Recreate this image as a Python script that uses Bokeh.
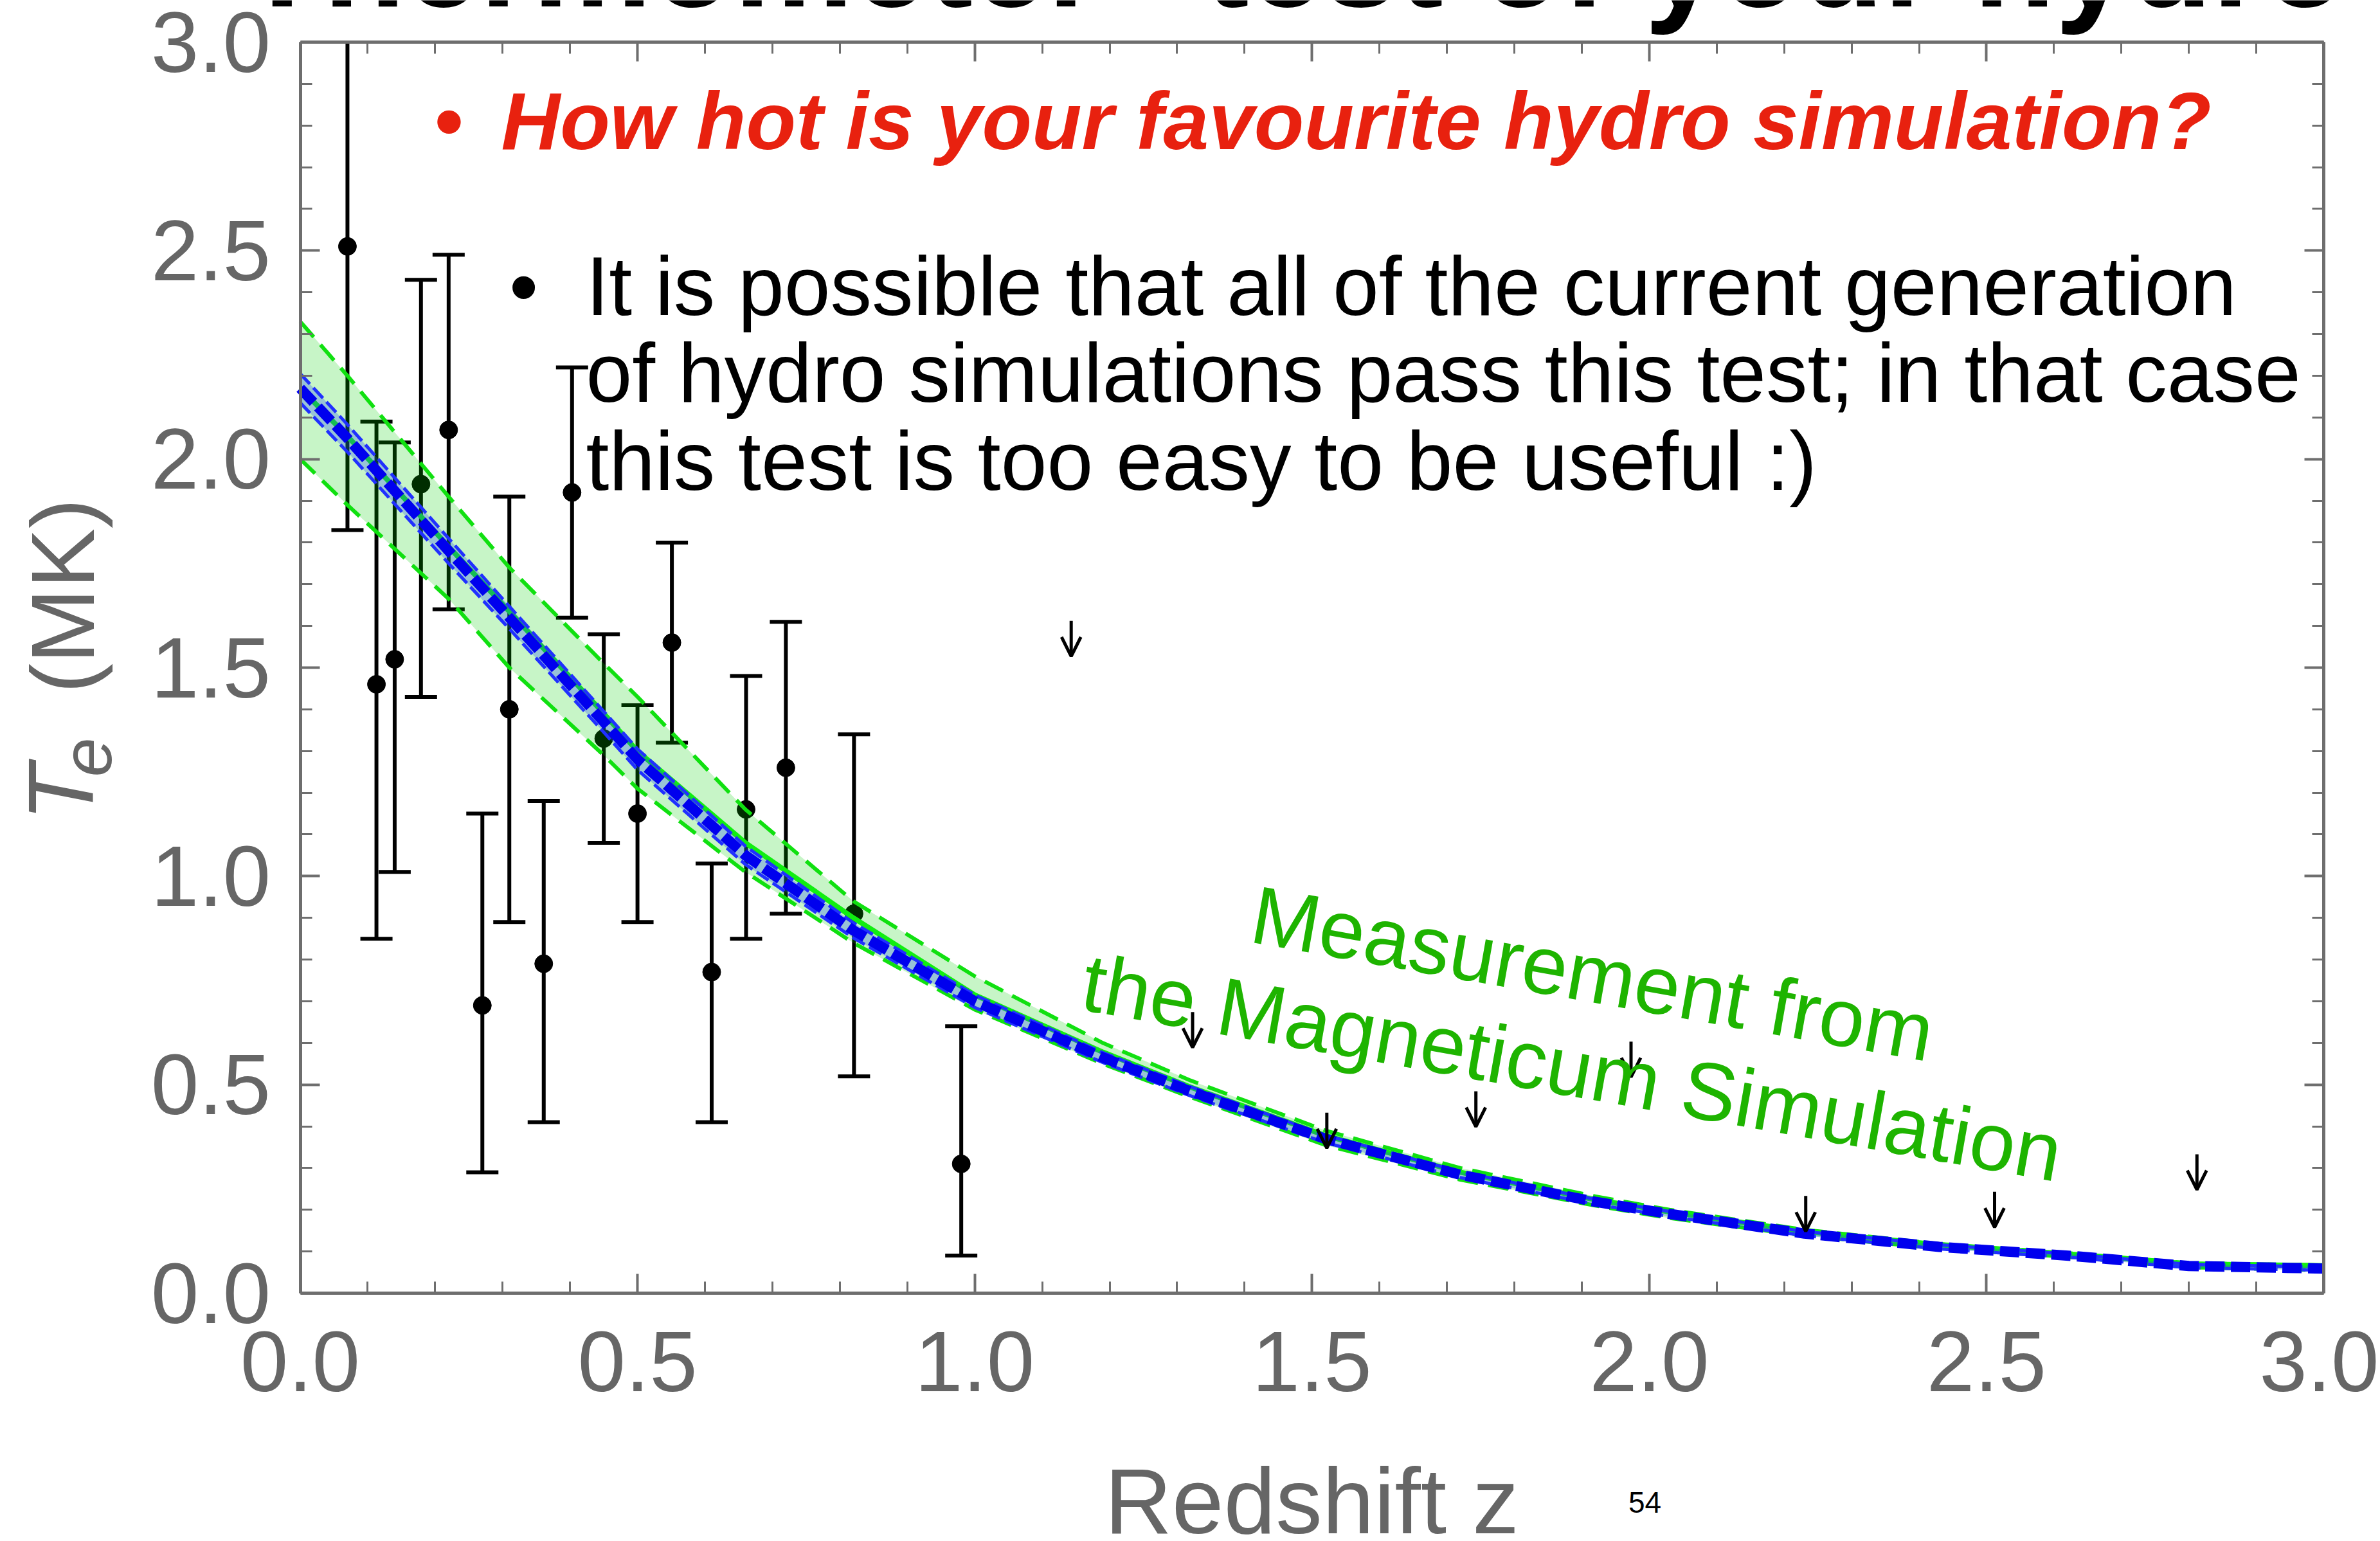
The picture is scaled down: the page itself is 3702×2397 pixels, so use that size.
from bokeh.plotting import figure
from bokeh.models import (Range1d, LinearAxis, SingleIntervalTicker, PrintfTickFormatter,
                          Label, Arrow, OpenHead, ColumnDataSource)
from bokeh.embed import file_html
from bokeh.resources import INLINE
import math

# ---------------- data ----------------
# measured points (redshift, temperature in MK, error bar ends)
z_pts = [0.070, 0.113, 0.140, 0.179, 0.220, 0.270, 0.310, 0.361, 0.403, 0.450,
         0.500, 0.551, 0.610, 0.661, 0.720, 0.821, 0.980]
T_pts = [2.51, 1.46, 1.52, 1.94, 2.07, 0.69, 1.40, 0.79, 1.92, 1.33,
         1.15, 1.56, 0.77, 1.16, 1.26, 0.91, 0.31]
T_hi = [3.00, 2.09, 2.04, 2.43, 2.49, 1.15, 1.91, 1.18, 2.22, 1.58,
        1.41, 1.80, 1.03, 1.48, 1.61, 1.34, 0.64]
T_lo = [1.83, 0.85, 1.01, 1.43, 1.64, 0.29, 0.89, 0.41, 1.62, 1.08,
        0.89, 1.32, 0.41, 0.85, 0.91, 0.52, 0.09]
has_top_cap = [False] + [True] * 16

# upper limits
z_ul = [1.143, 1.323, 1.522, 1.743, 1.973, 2.232, 2.512, 2.812]
T_ul = [1.612, 0.674, 0.433, 0.484, 0.603, 0.233, 0.243, 0.333]

# Magneticum simulation curves
z_curve = [0.0, 0.07, 0.22, 0.31, 0.45, 0.50, 0.66, 0.82, 1.00, 1.19,
           1.32, 1.52, 1.72, 1.92, 2.03, 2.23, 2.43, 2.63, 2.80, 3.00]
green_hi = [2.33, 2.20, 1.91, 1.74, 1.51, 1.43, 1.16, 0.94, 0.76, 0.60,
            0.51, 0.39, 0.30, 0.232, 0.20, 0.152, 0.118, 0.095, 0.072, 0.067]
green_lo = [2.00, 1.89, 1.665, 1.50, 1.29, 1.21, 1.01, 0.84, 0.68, 0.55,
            0.47, 0.355, 0.272, 0.21, 0.18, 0.138, 0.107, 0.086, 0.062, 0.055]
green_mid = [2.17, 2.055, 1.79, 1.635, 1.39, 1.30, 1.08, 0.90, 0.715, 0.578,
             0.494, 0.378, 0.290, 0.224, 0.195, 0.148, 0.116, 0.093, 0.070, 0.066]
blue_mid = [2.17, 2.05, 1.78, 1.62, 1.37, 1.28, 1.05, 0.87, 0.70, 0.565,
            0.484, 0.370, 0.284, 0.219, 0.190, 0.143, 0.111, 0.089, 0.065, 0.059]
blue_hi = [2.205, 2.083, 1.810, 1.647, 1.395, 1.305, 1.072, 0.888, 0.715, 0.577,
           0.495, 0.379, 0.291, 0.225, 0.196, 0.148, 0.116, 0.093, 0.069, 0.063]
blue_lo = [2.135, 2.017, 1.750, 1.593, 1.345, 1.255, 1.028, 0.852, 0.685, 0.553,
           0.473, 0.361, 0.277, 0.213, 0.184, 0.138, 0.106, 0.085, 0.061, 0.055]

x_axis_span = (0, 3)
y_axis_span = (0, 3)
tick_interval = 0.5

FONT = "Liberation Sans"
GRAY = "#666666"
AXIS = "#6e6e6e"

# ---------------- layout (page pixels) ----------------
W, H = 3700, 2395              # canvas
FL, FR, FT, FB = 466.5, 3614.0, 65.0, 2011.0   # where the 0..3 box sits
sx = (FR - FL) / 3.0
sy = (FB - FT) / 3.0
X0, X1 = -FL / sx, (W - FL) / sx
Y0, Y1 = -(H - FB) / sy, 3.0 + FT / sy


def zx(px):
    return (px - FL) / sx


def ty(py):
    return (FB - py) / sy


p = figure(width=W, height=H, x_range=Range1d(X0, X1), y_range=Range1d(Y0, Y1),
           x_axis_type=None, y_axis_type=None,
           output_backend="svg", toolbar_location=None, title=None,
           min_border=0, min_border_left=0, min_border_right=0,
           min_border_top=0, min_border_bottom=0)
p.background_fill_color = "white"
p.border_fill_color = "white"
p.outline_line_color = None


def make_axis(loc, show_labels, standoff, bounds):
    ax = LinearAxis(fixed_location=loc, bounds=bounds,
                    ticker=SingleIntervalTicker(interval=tick_interval, num_minor_ticks=5),
                    formatter=PrintfTickFormatter(format="%.1f"))
    ax.axis_line_color = AXIS
    ax.axis_line_width = 5
    ax.major_tick_line_color = AXIS
    ax.minor_tick_line_color = AXIS
    ax.major_tick_line_width = 4
    ax.minor_tick_line_width = 3
    ax.major_tick_in = 30
    ax.major_tick_out = 0
    ax.minor_tick_in = 18
    ax.minor_tick_out = 0
    if show_labels:
        ax.major_label_text_font = FONT
        ax.major_label_text_font_size = "134px"
        ax.major_label_text_color = GRAY
        ax.major_label_standoff = standoff
    else:
        ax.major_label_text_font_size = "1px"
        ax.major_label_text_alpha = 0
        ax.major_label_standoff = 0
    return ax


p.add_layout(make_axis(y_axis_span[0], True, 60, x_axis_span), "below")
p.add_layout(make_axis(x_axis_span[0], True, 46, y_axis_span), "left")
p.add_layout(make_axis(y_axis_span[1], False, 0, x_axis_span), "above")
p.add_layout(make_axis(x_axis_span[1], False, 0, y_axis_span), "right")

# ---------------- data points (under the band) ----------------
p.segment(x0=z_pts, y0=T_lo, x1=z_pts, y1=T_hi, line_color="black", line_width=6)
p.scatter(x=[z for z, c in zip(z_pts, has_top_cap) if c],
          y=[t for t, c in zip(T_hi, has_top_cap) if c],
          marker="dash", size=50, line_color="black", line_width=6)
p.scatter(x=z_pts, y=T_lo, marker="dash", size=50, line_color="black", line_width=6)
p.scatter(x=z_pts, y=T_pts, marker="circle", size=28, fill_color="black", line_color="black")

# ---------------- simulation band ----------------
p.varea(x=z_curve, y1=green_lo, y2=green_hi, fill_color="#00d000", fill_alpha=0.22)
p.line(z_curve, green_hi, line_color="#10e010", line_width=6, line_dash="32 16")
p.line(z_curve, green_lo, line_color="#10e010", line_width=6, line_dash="32 16")
p.line(z_curve, green_mid, line_color="#11ee11", line_width=8)
p.varea(x=z_curve, y1=blue_lo, y2=blue_hi, fill_color="#2040ff", fill_alpha=0.28)
p.line(z_curve, blue_hi, line_color="#2030ff", line_width=5, line_dash="22 8")
p.line(z_curve, blue_lo, line_color="#2030ff", line_width=5, line_dash="22 8")
p.line(z_curve, blue_mid, line_color="#0000ee", line_width=16, line_dash="30 10")

# ---------------- upper limits ----------------
ul_src = ColumnDataSource(dict(x=z_ul, y0=T_ul, y1=[t - 0.085 for t in T_ul]))
p.add_layout(Arrow(x_start="x", y_start="y0", x_end="x", y_end="y1", source=ul_src,
                   line_color="black", line_width=5,
                   end=OpenHead(size=30, line_width=5, line_color="black")))

# ---------------- texts ----------------
K = 0.36   # baseline correction (fraction of font size)


def lab(px, py, text, size, color="black", style="normal", align="left", angle=0):
    a = math.radians(angle)
    # move the anchor "up" along the text's own vertical direction
    dx = -K * size * math.sin(a)
    dy = -K * size * math.cos(a)
    p.add_layout(Label(x=zx(px + dx), y=ty(py + dy), text=text, text_font=FONT,
                       text_font_size=f"{size}px", text_color=color,
                       text_font_style=style, text_align=align,
                       text_baseline="alphabetic", angle=angle, angle_units="deg"))


# slide title (cut off at the top of the page)
lab(270, 12, "\u201cThermometer\u201d test of your hydro simulations", 209, style="bold")

RED = "#e8210f"
lab(698, 233, "\u2022", 127, color=RED, style="bold", align="center")
lab(779, 233, "How hot is your favourite hydro simulation?", 127, color=RED,
    style="bold italic")

lab(814, 491, "\u2022", 129, align="center")
lab(911, 491, "It is possible that all of the current generation", 129)
lab(911, 625.8, "of hydro simulations pass this test; in that case", 129)
lab(911, 762.6, "this test is too easy to be useful :)", 129)

GREEN_TXT = "#1eb400"
lab(2469, 1559, "Measurement from", 128, color=GREEN_TXT, align="center", angle=-10)
lab(2437, 1705, "the Magneticum Simulation", 128, color=GREEN_TXT, align="center", angle=-10)

# axis titles
lab(147, 1277, "T", 145, color=GRAY, style="italic", angle=90)
lab(174, 1208, "e", 110, color=GRAY, style="italic", angle=90)
lab(147, 1078, "(MK)", 140, color=GRAY, angle=90)
lab(2040, 2387, "Redshift z", 145, color=GRAY, align="center")
lab(2558, 2353, "54", 46, align="center")

open("out.html", "w").write(file_html(p, INLINE))
